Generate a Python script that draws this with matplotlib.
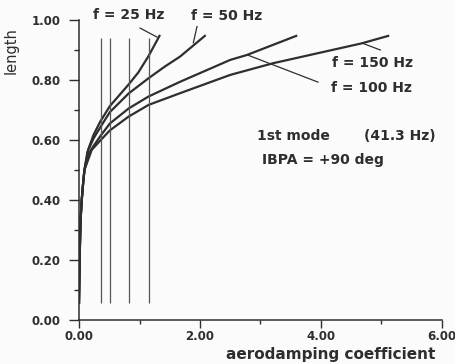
import matplotlib

matplotlib.use("Agg")
import matplotlib.pyplot as plt
from matplotlib.ticker import MultipleLocator, FormatStrFormatter

# shared root part of every curve (near the hub)
ROOT_X = [0.0, 0.01, 0.025, 0.045, 0.07, 0.09]
ROOT_Y = [0.057, 0.20, 0.33, 0.40, 0.46, 0.50]

F25_X = [0.15, 0.24, 0.35, 0.51, 0.82, 0.98, 1.15, 1.33]
F25_Y = [0.567, 0.617, 0.661, 0.713, 0.785, 0.825, 0.88, 0.947]

F50_X = [0.14, 0.24, 0.36, 0.51, 0.82, 1.15, 1.42, 1.67, 2.08]
F50_Y = [0.56, 0.605, 0.645, 0.693, 0.755, 0.806, 0.845, 0.878, 0.947]

F100_X = [0.15, 0.24, 0.36, 0.51, 0.82, 1.15, 1.67, 2.5, 2.77, 3.59]
F100_Y = [0.55, 0.58, 0.615, 0.655, 0.705, 0.745, 0.794, 0.867, 0.883, 0.947]

F150_X = [0.21, 0.36, 0.51, 0.82, 1.15, 1.67, 2.5, 3.21, 4.67, 5.11]
F150_Y = [0.567, 0.60, 0.632, 0.678, 0.717, 0.756, 0.817, 0.856, 0.922, 0.947]

# vertical marker lines
VLINE_X = [0.36, 0.51, 0.82, 1.15]
VLINE_BOTTOM = 0.057
VLINE_TOP = 0.94

# label text, anchor and leader line (from, to)
LABELS = [
    ("f = 25 Hz", (0.23, 1.017), (1.01, 0.973), (1.29, 0.943)),
    ("f = 50 Hz", (1.85, 1.013), (1.95, 0.978), (1.89, 0.924)),
    ("f = 150 Hz", (4.18, 0.857), (4.98, 0.900), (4.68, 0.923)),
    ("f = 100 Hz", (4.17, 0.773), (3.95, 0.793), (2.79, 0.883)),
]

INK = "#2e2e2e"
BG = "#fbfbfb"
FONT = "DejaVu Sans"

fig = plt.figure(figsize=(4.56, 3.64), dpi=100, facecolor=BG)
ax = fig.add_axes([79 / 456, 44 / 364, 363 / 456, 300 / 364])
ax.set_facecolor(BG)

for xs, ys in [(F25_X, F25_Y), (F50_X, F50_Y), (F100_X, F100_Y), (F150_X, F150_Y)]:
    ax.plot(ROOT_X + xs, ROOT_Y + ys, color=INK, linewidth=1.6, solid_joinstyle="round")

ax.vlines(VLINE_X, VLINE_BOTTOM, VLINE_TOP, color="#555555", linewidth=0.9)

for text, (tx, ty), p0, p1 in LABELS:
    ax.text(tx, ty, text, fontsize=10, fontweight="bold", family=FONT,
            color=INK, va="center", ha="left", clip_on=False)
    ax.plot([p0[0], p1[0]], [p0[1], p1[1]], color=INK, linewidth=0.9, clip_on=False)

ax.text(2.94, 0.613, "1st mode", fontsize=10, fontweight="bold", family=FONT,
        color=INK, va="center", ha="left")
ax.text(5.90, 0.613, "(41.3 Hz)", fontsize=10, fontweight="bold", family=FONT,
        color=INK, va="center", ha="right")
ax.text(3.02, 0.533, "IBPA = +90 deg", fontsize=10, fontweight="bold", family=FONT,
        color=INK, va="center", ha="left")

ax.set_xlim(0, 6)
ax.set_ylim(0, 1)
ax.spines["top"].set_visible(False)
ax.spines["right"].set_visible(False)
for side in ("left", "bottom"):
    ax.spines[side].set_color(INK)
    ax.spines[side].set_linewidth(1.1)

ax.xaxis.set_major_locator(MultipleLocator(2))
ax.xaxis.set_minor_locator(MultipleLocator(1))
ax.yaxis.set_major_locator(MultipleLocator(0.2))
ax.yaxis.set_minor_locator(MultipleLocator(0.1))
ax.xaxis.set_major_formatter(FormatStrFormatter("%.2f"))
ax.yaxis.set_major_formatter(FormatStrFormatter("%.2f"))

ax.tick_params(axis="y", which="major", direction="out", length=7.5, width=1.0,
               pad=5.5, color=INK, labelcolor=INK)
ax.tick_params(axis="y", which="minor", direction="out", length=3.5, width=1.0, color=INK)
ax.tick_params(axis="x", which="major", direction="out", length=6, width=1.0,
               pad=1.5, color=INK, labelcolor=INK)
ax.tick_params(axis="x", which="minor", direction="out", length=3, width=1.0, color=INK)
for lab in ax.get_xticklabels() + ax.get_yticklabels():
    lab.set_fontsize(8.5)
    lab.set_fontweight("bold")
    lab.set_family(FONT)

fig.text(11 / 456, 1 - 51 / 364, "length", rotation=90, fontsize=10.5, family=FONT,
         color=INK, ha="center", va="center")
fig.text(435 / 456, 1 - 355 / 364, "aerodamping coefficient", fontsize=11,
         fontweight="bold", family=FONT, color=INK, ha="right", va="center")

fig.savefig("out.png", dpi=100, facecolor=fig.get_facecolor())
